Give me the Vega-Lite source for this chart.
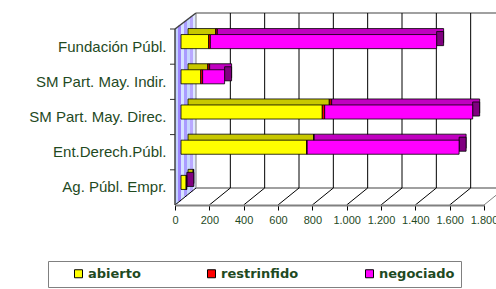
{
  "$schema": "https://vega.github.io/schema/vega-lite/v6.json",
  "width": 309,
  "height": 176,
  "autosize": {"type": "none"},
  "padding": {"left": 175, "top": 29, "right": 12, "bottom": 84},
  "background": "white",
  "config": {
    "view": {"stroke": null},
    "font": "Liberation Sans",
    "locale": {"number": {"decimal": ",", "thousands": ".", "grouping": [3], "currency": ["", " €"]}},
    "axis": {"labelFont": "Liberation Sans", "labelColor": "#1f4a1f", "grid": false, "zindex": 1},
    "axisX": {"labelOverlap": false, "labelFlush": false, "labelFontSize": 11, "tickSize": 5, "tickColor": "#000000", "tickWidth": 1, "domainColor": "#808080", "domainWidth": 2, "labelPadding": 4},
    "axisY": {"ticks": false, "domain": false, "labelFontSize": 15, "labelPadding": 9, "labelLimit": 200}
  },
  "datasets": {
    "bars": [
      {"cat": "Fundación Públ.", "tipo": "abierto", "val": 161, "o": 1},
      {"cat": "Fundación Públ.", "tipo": "restrinfido", "val": 10, "o": 2},
      {"cat": "Fundación Públ.", "tipo": "negociado", "val": 1318, "o": 3},
      {"cat": "SM Part. May. Indir.", "tipo": "abierto", "val": 115, "o": 1},
      {"cat": "SM Part. May. Indir.", "tipo": "restrinfido", "val": 11, "o": 2},
      {"cat": "SM Part. May. Indir.", "tipo": "negociado", "val": 128, "o": 3},
      {"cat": "SM Part. May. Direc.", "tipo": "abierto", "val": 823, "o": 1},
      {"cat": "SM Part. May. Direc.", "tipo": "restrinfido", "val": 14, "o": 2},
      {"cat": "SM Part. May. Direc.", "tipo": "negociado", "val": 862, "o": 3},
      {"cat": "Ent.Derech.Públ.", "tipo": "abierto", "val": 732, "o": 1},
      {"cat": "Ent.Derech.Públ.", "tipo": "restrinfido", "val": 3, "o": 2},
      {"cat": "Ent.Derech.Públ.", "tipo": "negociado", "val": 885, "o": 3},
      {"cat": "Ag. Públ. Empr.", "tipo": "abierto", "val": 31, "o": 1},
      {"cat": "Ag. Públ. Empr.", "tipo": "restrinfido", "val": 0, "o": 2},
      {"cat": "Ag. Públ. Empr.", "tipo": "negociado", "val": 3, "o": 3}
    ],
    "grid": [
      {"v": 0}, {"v": 200}, {"v": 400}, {"v": 600}, {"v": 800},
      {"v": 1000}, {"v": 1200}, {"v": 1400}, {"v": 1600}, {"v": 1800}
    ]
  },
  "layer": [
    {
      "data": {"name": "grid"},
      "layer": [
        {"transform": [{"filter": "datum.v == 0"}], "mark": {"type": "rect", "color": "#c3d3ff", "xOffset": 0, "x2Offset": 3, "yOffset": -1.14, "y2Offset": -1.21},
         "encoding": {"x": {"datum": 0, "type": "quantitative", "axis": {"title": null, "values": [0, 200, 400, 600, 800, 1000, 1200, 1400, 1600, 1800], "format": ",d", "labelOverlap": false, "zindex": 1}}, "x2": {"datum": 0}, "y": {"datum": 1, "type": "quantitative", "scale": {"domain": [0, 1]}, "axis": null}, "y2": {"datum": 0}}},
        {"transform": [{"filter": "datum.v == 0"}], "mark": {"type": "rect", "color": "#9d86ff", "xOffset": 3, "x2Offset": 6, "yOffset": -3.43, "y2Offset": -3.64},
         "encoding": {"x": {"datum": 0, "type": "quantitative", "axis": {"title": null, "values": [0, 200, 400, 600, 800, 1000, 1200, 1400, 1600, 1800], "format": ",d", "labelOverlap": false, "zindex": 1}}, "x2": {"datum": 0}, "y": {"datum": 1, "type": "quantitative", "scale": {"domain": [0, 1]}, "axis": null}, "y2": {"datum": 0}}},
        {"transform": [{"filter": "datum.v == 0"}], "mark": {"type": "rect", "color": "#d6e2ff", "xOffset": 6, "x2Offset": 9, "yOffset": -5.71, "y2Offset": -6.07},
         "encoding": {"x": {"datum": 0, "type": "quantitative", "axis": {"title": null, "values": [0, 200, 400, 600, 800, 1000, 1200, 1400, 1600, 1800], "format": ",d", "labelOverlap": false, "zindex": 1}}, "x2": {"datum": 0}, "y": {"datum": 1, "type": "quantitative", "scale": {"domain": [0, 1]}, "axis": null}, "y2": {"datum": 0}}},
        {"transform": [{"filter": "datum.v == 0"}], "mark": {"type": "rect", "color": "#a99cff", "xOffset": 9, "x2Offset": 12, "yOffset": -8.0, "y2Offset": -8.5},
         "encoding": {"x": {"datum": 0, "type": "quantitative", "axis": {"title": null, "values": [0, 200, 400, 600, 800, 1000, 1200, 1400, 1600, 1800], "format": ",d", "labelOverlap": false, "zindex": 1}}, "x2": {"datum": 0}, "y": {"datum": 1, "type": "quantitative", "scale": {"domain": [0, 1]}, "axis": null}, "y2": {"datum": 0}}},
        {"transform": [{"filter": "datum.v == 0"}], "mark": {"type": "rect", "color": "#c6d6ff", "xOffset": 12, "x2Offset": 15, "yOffset": -10.29, "y2Offset": -10.93},
         "encoding": {"x": {"datum": 0, "type": "quantitative", "axis": {"title": null, "values": [0, 200, 400, 600, 800, 1000, 1200, 1400, 1600, 1800], "format": ",d", "labelOverlap": false, "zindex": 1}}, "x2": {"datum": 0}, "y": {"datum": 1, "type": "quantitative", "scale": {"domain": [0, 1]}, "axis": null}, "y2": {"datum": 0}}},
        {"transform": [{"filter": "datum.v == 0"}], "mark": {"type": "rect", "color": "#b9a8ff", "xOffset": 15, "x2Offset": 18, "yOffset": -12.57, "y2Offset": -13.36},
         "encoding": {"x": {"datum": 0, "type": "quantitative", "axis": {"title": null, "values": [0, 200, 400, 600, 800, 1000, 1200, 1400, 1600, 1800], "format": ",d", "labelOverlap": false, "zindex": 1}}, "x2": {"datum": 0}, "y": {"datum": 1, "type": "quantitative", "scale": {"domain": [0, 1]}, "axis": null}, "y2": {"datum": 0}}},
        {"transform": [{"filter": "datum.v == 0"}], "mark": {"type": "rect", "color": "#dfe8ff", "xOffset": 18, "x2Offset": 21, "yOffset": -14.86, "y2Offset": -15.79},
         "encoding": {"x": {"datum": 0, "type": "quantitative", "axis": {"title": null, "values": [0, 200, 400, 600, 800, 1000, 1200, 1400, 1600, 1800], "format": ",d", "labelOverlap": false, "zindex": 1}}, "x2": {"datum": 0}, "y": {"datum": 1, "type": "quantitative", "scale": {"domain": [0, 1]}, "axis": null}, "y2": {"datum": 0}}},
        {"transform": [{"filter": "datum.v == 0"}], "mark": {"type": "rule", "color": "#808080", "strokeWidth": 1, "xOffset": 21, "yOffset": -16, "y2Offset": -17},
         "encoding": {"x": {"datum": 0, "type": "quantitative", "axis": {"title": null, "values": [0, 200, 400, 600, 800, 1000, 1200, 1400, 1600, 1800], "format": ",d", "labelOverlap": false, "zindex": 1}}, "y": {"datum": 1, "type": "quantitative", "scale": {"domain": [0, 1]}, "axis": null}, "y2": {"datum": 0}}},
        {"transform": [{"filter": "datum.v == 0"}], "mark": {"type": "rule", "color": "#808080", "strokeWidth": 1.5, "xOffset": 21, "x2Offset": 21, "yOffset": -16},
         "encoding": {"x": {"datum": 0, "type": "quantitative", "axis": {"title": null, "values": [0, 200, 400, 600, 800, 1000, 1200, 1400, 1600, 1800], "format": ",d", "labelOverlap": false, "zindex": 1}}, "x2": {"datum": 1800}, "y": {"datum": 1, "type": "quantitative", "scale": {"domain": [0, 1]}, "axis": null}}},
        {"transform": [{"filter": "datum.v == 0"}], "mark": {"type": "rule", "color": "#808080", "strokeWidth": 1.5, "xOffset": 21, "x2Offset": 21, "yOffset": -17},
         "encoding": {"x": {"datum": 0, "type": "quantitative", "axis": {"title": null, "values": [0, 200, 400, 600, 800, 1000, 1200, 1400, 1600, 1800], "format": ",d", "labelOverlap": false, "zindex": 1}}, "x2": {"datum": 1800}, "y": {"datum": 0, "type": "quantitative", "scale": {"domain": [0, 1]}, "axis": null}}},
        {"transform": [{"filter": "datum.v > 0"}], "mark": {"type": "rule", "color": "#000000", "strokeWidth": 1, "xOffset": 21, "yOffset": -16, "y2Offset": -17},
         "encoding": {"x": {"field": "v", "type": "quantitative", "title": null, "axis": {"title": null, "values": [0, 200, 400, 600, 800, 1000, 1200, 1400, 1600, 1800], "format": ",d", "labelOverlap": false, "zindex": 1}}, "y": {"datum": 1, "type": "quantitative", "scale": {"domain": [0, 1]}, "axis": null}, "y2": {"datum": 0}}},
        {"mark": {"type": "rule", "strokeWidth": 1, "x2Offset": 21, "y2Offset": -17},
         "encoding": {"x": {"field": "v", "type": "quantitative", "title": null, "axis": {"title": null, "values": [0, 200, 400, 600, 800, 1000, 1200, 1400, 1600, 1800], "format": ",d", "labelOverlap": false, "zindex": 1}}, "x2": {"field": "v"}, "y": {"datum": 0, "type": "quantitative", "scale": {"domain": [0, 1]}, "axis": null}, "y2": {"datum": 0},
           "color": {"condition": {"test": "datum.v == 1800", "value": "#808080"}, "value": "#000000"}}},
        {"transform": [{"filter": "datum.v == 0"}], "mark": {"type": "rule", "color": "#404040", "strokeWidth": 1.5, "x2Offset": 21, "y2Offset": -16},
         "encoding": {"x": {"datum": 0, "type": "quantitative", "axis": {"title": null, "values": [0, 200, 400, 600, 800, 1000, 1200, 1400, 1600, 1800], "format": ",d", "labelOverlap": false, "zindex": 1}}, "x2": {"datum": 0}, "y": {"datum": 1, "type": "quantitative", "scale": {"domain": [0, 1]}, "axis": null}, "y2": {"datum": 1}}},
        {"transform": [{"filter": "datum.v == 0"}], "mark": {"type": "rule", "color": "#404040", "strokeWidth": 1.5},
         "encoding": {"x": {"datum": 0, "type": "quantitative", "axis": {"title": null, "values": [0, 200, 400, 600, 800, 1000, 1200, 1400, 1600, 1800], "format": ",d", "labelOverlap": false, "zindex": 1}}, "y": {"datum": 1, "type": "quantitative", "scale": {"domain": [0, 1]}, "axis": null}, "y2": {"datum": 0}}}
      ]
    },
    {
      "data": {"name": "bars"},
      "layer": [
        {"mark": {"type": "bar", "xOffset": 13, "x2Offset": 13, "yOffset": -11, "y2Offset": -11, "stroke": "black", "strokeWidth": 0.8},
         "encoding": {
           "y": {"field": "cat", "type": "nominal", "title": null, "sort": ["Fundación Públ.", "SM Part. May. Indir.", "SM Part. May. Direc.", "Ent.Derech.Públ.", "Ag. Públ. Empr."], "scale": {"paddingInner": 0.6, "paddingOuter": 0.3}, "axis": {"title": null, "ticks": false, "domain": false, "zindex": 1}},
           "x": {"field": "val", "type": "quantitative", "stack": "zero", "title": null, "axis": {"title": null, "values": [0, 200, 400, 600, 800, 1000, 1200, 1400, 1600, 1800], "format": ",d", "labelOverlap": false, "zindex": 1}},
           "detail": {"field": "tipo"},
           "fill": {"condition": [{"test": "datum.tipo == 'abierto'", "value": "#c8c800"}, {"test": "datum.tipo == 'restrinfido'", "value": "#c00000"}], "value": "#c000c0"},
           "order": {"field": "o"}
         }},
        {"transform": [{"aggregate": [{"op": "sum", "field": "val", "as": "tot"}], "groupby": ["cat"]}],
         "mark": {"type": "bar", "color": "#800080", "xOffset": 6, "x2Offset": 13, "yOffset": -8, "y2Offset": -8, "stroke": "black", "strokeWidth": 0.8},
         "encoding": {
           "y": {"field": "cat", "type": "nominal", "title": null, "sort": ["Fundación Públ.", "SM Part. May. Indir.", "SM Part. May. Direc.", "Ent.Derech.Públ.", "Ag. Públ. Empr."], "axis": {"title": null, "ticks": false, "domain": false, "zindex": 1}},
           "x": {"field": "tot", "type": "quantitative", "title": null, "axis": {"title": null, "values": [0, 200, 400, 600, 800, 1000, 1200, 1400, 1600, 1800], "format": ",d", "labelOverlap": false, "zindex": 1}},
           "x2": {"field": "tot"}
         }},
        {"transform": [{"aggregate": [{"op": "count", "as": "n"}], "groupby": ["cat"]}],
         "mark": {"type": "rule", "color": "#303030", "strokeWidth": 1, "xOffset": -5, "yOffset": -10.56},
         "encoding": {
           "y": {"field": "cat", "type": "nominal", "title": null, "bandPosition": 0, "sort": ["Fundación Públ.", "SM Part. May. Indir.", "SM Part. May. Direc.", "Ent.Derech.Públ.", "Ag. Públ. Empr."], "axis": {"title": null, "ticks": false, "domain": false, "zindex": 1}},
           "x": {"datum": 0, "type": "quantitative", "title": null, "axis": {"title": null, "values": [0, 200, 400, 600, 800, 1000, 1200, 1400, 1600, 1800], "format": ",d", "labelOverlap": false, "zindex": 1}},
           "x2": {"datum": 0}
         }},
        {"mark": {"type": "bar", "xOffset": 6, "x2Offset": 6, "yOffset": -5, "y2Offset": -5, "stroke": "black", "strokeWidth": 0.8},
         "encoding": {
           "y": {"field": "cat", "type": "nominal", "title": null, "sort": ["Fundación Públ.", "SM Part. May. Indir.", "SM Part. May. Direc.", "Ent.Derech.Públ.", "Ag. Públ. Empr."], "axis": {"title": null, "ticks": false, "domain": false, "zindex": 1}},
           "x": {"field": "val", "type": "quantitative", "stack": "zero", "title": null, "scale": {"domain": [0, 1800], "nice": false},
             "axis": {"title": null, "values": [0, 200, 400, 600, 800, 1000, 1200, 1400, 1600, 1800], "format": ",d", "labelOverlap": false, "zindex": 1}},
           "color": {"field": "tipo", "type": "nominal", "sort": ["abierto", "restrinfido", "negociado"], "scale": {"domain": ["abierto", "restrinfido", "negociado"], "range": ["#ffff00", "#ff0000", "#ff00ff"]},
             "legend": {"orient": "none", "legendX": -127, "legendY": 232, "direction": "horizontal", "title": null, "symbolType": "square", "symbolSize": 64, "symbolStrokeColor": "black", "symbolStrokeWidth": 1, "labelFont": "DejaVu Sans", "labelFontWeight": "bold", "labelFontSize": 13, "labelColor": "#1f4a1f", "labelOffset": 3, "columnPadding": 46, "symbolOffset": 18, "padding": 6, "strokeColor": "#808080", "fillColor": "white"}},
           "order": {"field": "o"}
         }}
      ]
    }
  ],
  "resolve": {"scale": {"y": "independent"}, "axis": {"y": "independent"}}
}
